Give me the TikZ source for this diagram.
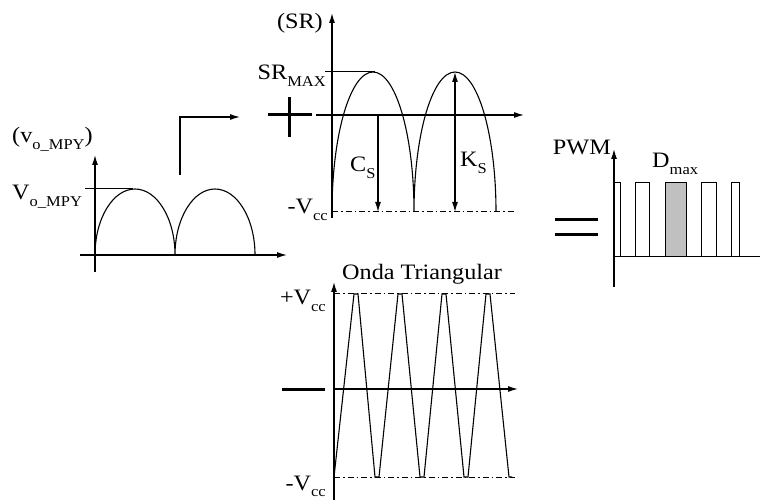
\documentclass[tikz,border=0pt]{standalone}
\usepackage{fontspec}
\setmainfont{Liberation Serif}[FakeStretch=1.1]
\usetikzlibrary{arrows.meta}
\newcommand\mysub[1]{\raisebox{-0.28em}{\fontsize{15}{16}\selectfont #1}}
\begin{document}
\begin{tikzpicture}[x=1pt,y=-1pt,
  ax/.style={line width=1.2pt,-{Latex[length=10pt,width=6pt]}},
  dimarr/.style={line width=1.2pt,-{Latex[length=10pt,width=6pt]}},
  dimboth/.style={line width=1.2pt,{Latex[length=10pt,width=6pt]}-{Latex[length=10pt,width=6pt]}},
  wave/.style={line width=1.1pt},
  thin/.style={line width=1pt},
  ref/.style={line width=1pt, dash pattern=on 6pt off 3pt on 1.5pt off 3pt},
  sign/.style={line width=3pt},
  lab/.style={font=\fontsize{22}{24}\selectfont, inner sep=0pt},
]
\useasboundingbox (0,0) rectangle (768,502);

% ---------- left graph (v_o_MPY)
\draw[ax] (95,272) -- (95,155);
\draw[ax] (80,255) -- (287,255);
\draw[thin] (85,189) -- (133,189);
\draw[wave] (95,255) arc[start angle=180, end angle=0, x radius=40pt, y radius=66pt]
                     arc[start angle=180, end angle=0, x radius=40pt, y radius=66pt];
\node[lab,anchor=base west] (lvy) at (12,143) {(v\mysub{o\_MPY})};
\node[lab,anchor=base west] (lvmax) at (12,200) {V\mysub{o\_MPY}};

% bracket arrow
\coordinate (b0) at (180,175);
\coordinate (b1) at (240,117);
\draw[ax] (b0) |- (b1);

% ---------- plus sign
\draw[sign] (268,115) -- (312,115);
\draw[sign] (289,97) -- (289,137);

% ---------- top middle graph (SR)
\draw[ax] (332,218) -- (332,13);
\draw[ax] (316,115) -- (524,115);
\draw[thin] (325,72) -- (375,72);
\draw[ref] (332,212) -- (514,212);
\draw[wave] (332,212) arc[start angle=180, end angle=0, x radius=41pt, y radius=140pt]
                      arc[start angle=180, end angle=0, x radius=41pt, y radius=140pt];
\draw[dimarr] (378,115) -- (378,212);
\draw[dimboth] (455,72) -- (455,212);
\node[lab,anchor=base east] (lsr) at (323,29) {(SR)};
\node[lab,anchor=base east] (lsrmax) at (326,80) {SR\mysub{MAX}};
\node[lab,anchor=base east] (lvcc1) at (328,214) {-V\mysub{cc}};
\node[lab,anchor=base west] (lcs) at (350,172) {C\mysub{S}};
\node[lab,anchor=base west] (lks) at (460,167) {K\mysub{S}};

% ---------- minus sign
\draw[sign] (282,389) -- (325,389);

% ---------- triangular wave
\node[lab,anchor=base west] (ltri) at (342,280) {Onda Triangular};
\draw[ax] (334,500) -- (334,282);
\draw[ax] (334,389) -- (518,389);
\draw[ref] (334,294) -- (515,294);
\draw[ref] (334,477) -- (515,477);
\draw[wave] (334,477) -- (354,294) -- (358,294) -- (375,477) -- (379,477)
  -- (398,294) -- (402,294) -- (420,477) -- (424,477)
  -- (442,294) -- (446,294) -- (464,477) -- (468,477)
  -- (486,294) -- (490,294) -- (509,477) -- (512,477);
\node[lab,anchor=base east] (lvccp) at (326,305) {+V\mysub{cc}};
\node[lab,anchor=base east] (lvccm) at (326,490) {-V\mysub{cc}};

% ---------- equal sign
\draw[sign] (555,220) -- (598,220);
\draw[sign] (555,235) -- (598,235);

% ---------- PWM
\draw[ax] (614,287) -- (614,149);
\draw[thin] (614,257) -- (760,257);
\draw[thin] (614,257) rectangle (620,183);
\draw[thin] (635,257) rectangle (649,183);
\draw[thin,fill={rgb,255:red,192;green,192;blue,192}] (665,257) rectangle (686,183);
\draw[thin] (701,257) rectangle (716,183);
\draw[thin] (731,257) rectangle (739,183);
\node[lab,anchor=base east] (lpwm) at (611,155) {PWM};
\node[lab,anchor=base west] (ldmax) at (652,168) {D\mysub{max}};
\end{tikzpicture}
\end{document}
